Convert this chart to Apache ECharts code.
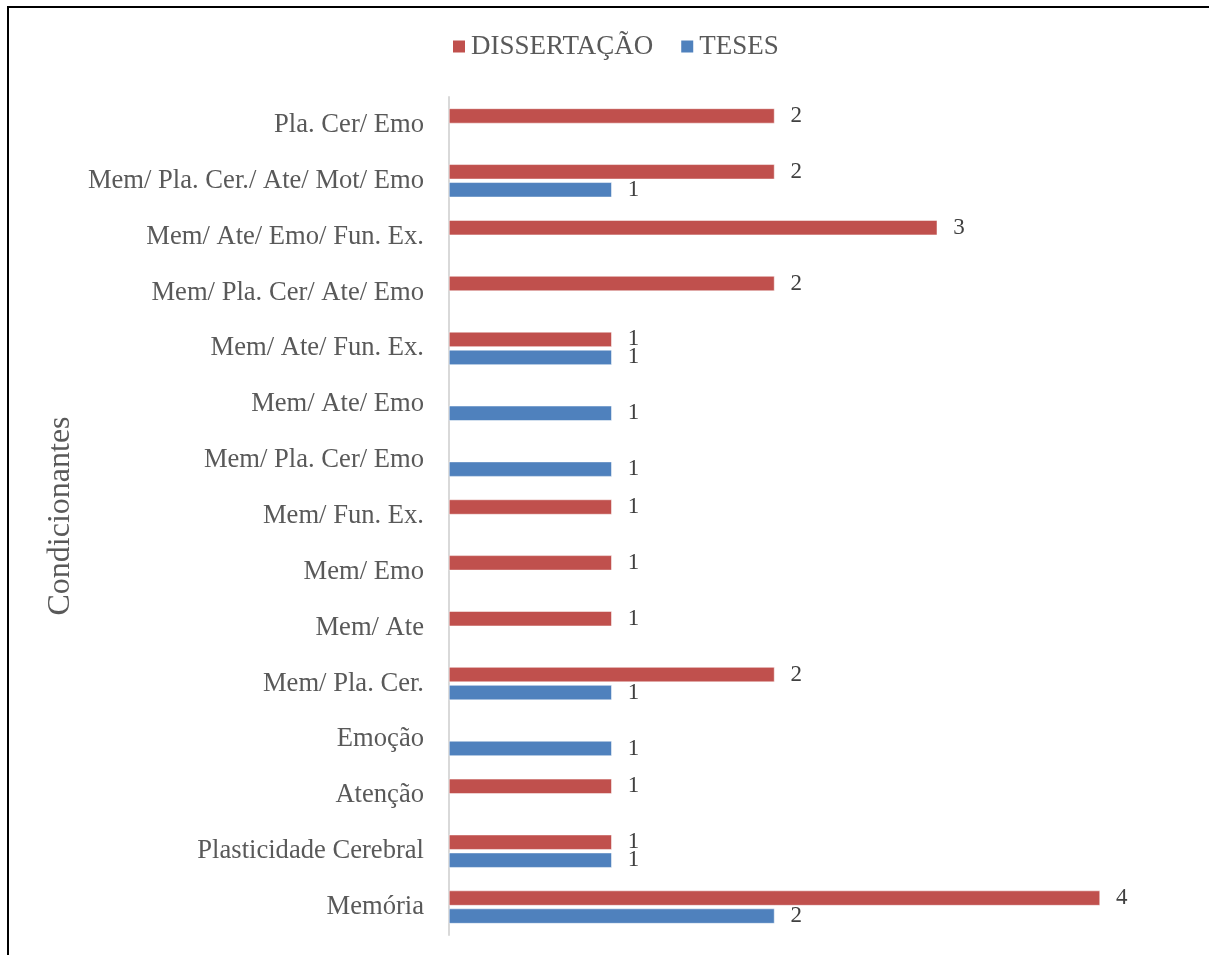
<!DOCTYPE html>
<html>
<head>
<meta charset="utf-8">
<script src="https://cdn.jsdelivr.net/npm/echarts@6/dist/echarts.min.js"></script>
<style>
  html, body { margin: 0; padding: 0; background: #fff; overflow: hidden; }
  #frame { position: absolute; left: 7px; top: 6px; width: 1300px; height: 1100px;
           border-top: 2px solid #000; border-left: 2px solid #000; }
  #chart { position: absolute; left: 0; top: 0; width: 1209px; height: 955px; }
</style>
</head>
<body>
<div id="frame"></div>
<div id="chart"></div>
<script>
// Categories listed bottom to top (first entry sits next to the x origin)
const categories = [
  'Memória',
  'Plasticidade Cerebral',
  'Atenção',
  'Emoção',
  'Mem/ Pla. Cer.',
  'Mem/ Ate',
  'Mem/ Emo',
  'Mem/ Fun. Ex.',
  'Mem/ Pla. Cer/ Emo',
  'Mem/ Ate/ Emo',
  'Mem/ Ate/ Fun. Ex.',
  'Mem/ Pla. Cer/ Ate/ Emo',
  'Mem/ Ate/ Emo/ Fun. Ex.',
  'Mem/ Pla. Cer./ Ate/ Mot/ Emo',
  'Pla. Cer/ Emo'
];

// null = no work in that group
const dissertacao = [4, 1, 1, null, 2, 1, 1, 1, null, null, 1, 2, 3, 2, 2];
const teses       = [2, 1, null, 1, 1, null, null, null, 1, 1, 1, null, null, 1, null];

const seriesNames = ['DISSERTAÇÃO', 'TESES'];
const axisTitle = 'Condicionantes';

const serif = '"Liberation Serif", "Times New Roman", serif';

const labelStyle = {
  show: true,
  position: 'right',
  distance: 16,
  fontFamily: serif,
  fontSize: 23,
  color: '#404040'
};

const chart = echarts.init(document.getElementById('chart'));
chart.setOption({
  animation: false,
  backgroundColor: 'transparent',
  legend: {
    data: seriesNames,
    top: 33,
    left: 451,
    padding: 0,
    itemWidth: 14,
    itemHeight: 14,
    itemGap: 26,
    icon: 'rect',
    textStyle: { fontFamily: serif, fontSize: 27, color: '#595959' }
  },
  grid: { left: 449, right: 109, top: 97, bottom: 20, containLabel: false },
  xAxis: {
    type: 'value',
    min: 0,
    max: 4,
    interval: 1,
    show: false
  },
  yAxis: {
    type: 'category',
    data: categories,
    name: axisTitle,
    nameLocation: 'middle',
    nameGap: 369,
    nameRotate: 90,
    nameTextStyle: { fontFamily: serif, fontSize: 32, color: '#595959' },
    axisLine: { show: true, lineStyle: { color: '#d9d9d9', width: 2 } },
    axisTick: { show: false },
    axisLabel: { fontFamily: serif, fontSize: 26.6, color: '#595959', margin: 25 },
    splitLine: { show: false }
  },
  series: [
    {
      name: 'DISSERTAÇÃO',
      type: 'bar',
      data: dissertacao,
      barWidth: 15,
      barGap: '20%',
      itemStyle: { color: '#C0504D', borderColor: '#ffffff', borderWidth: 0.5 },
      label: labelStyle
    },
    {
      name: 'TESES',
      type: 'bar',
      data: teses,
      barWidth: 15,
      barGap: '20%',
      itemStyle: { color: '#4F81BD', borderColor: '#ffffff', borderWidth: 0.5 },
      label: labelStyle
    }
  ]
});
</script>
</body>
</html>
